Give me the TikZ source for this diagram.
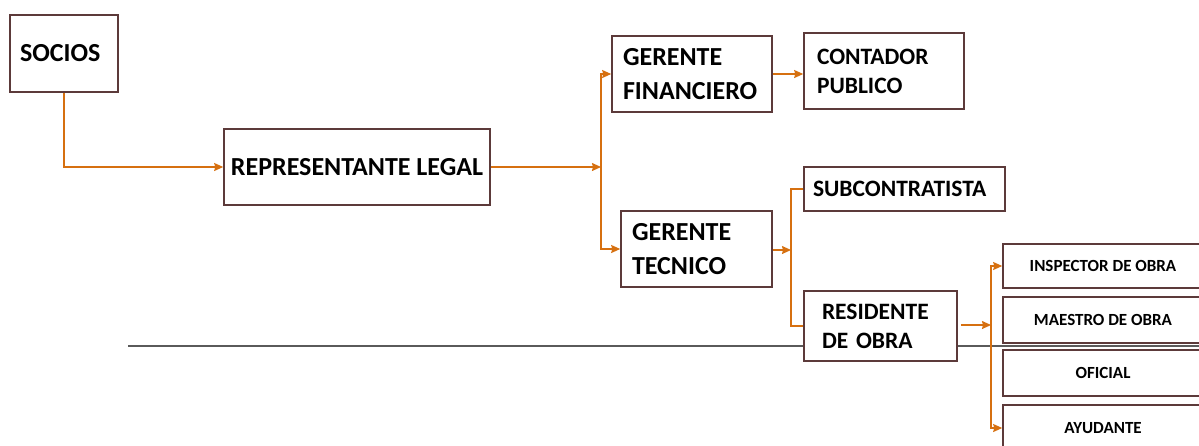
\documentclass[tikz,border=0pt]{standalone}
\usepackage{fontspec}
\usetikzlibrary{arrows.meta}
\setmainfont{Carlito}
\definecolor{boxline}{RGB}{92,58,58}
\definecolor{arrowor}{RGB}{214,112,16}
\definecolor{ruleg}{RGB}{90,90,90}
\begin{document}
\begin{tikzpicture}[x=1pt,y=-1pt,
    cargo/.style={draw=boxline, line width=1.6pt, fill=white, rectangle, inner sep=0pt,
                  font=\fontsize{26}{34}\selectfont\bfseries},
    cargol/.style={cargo, align=left},
    peon/.style={cargo, align=center, font=\fontsize{17}{20}\selectfont\bfseries},
    link/.style={draw=arrowor, line width=1.4pt, -{Stealth[length=9pt,width=8pt,inset=1pt]}},
    wire/.style={draw=arrowor, line width=1.4pt}]
    \useasboundingbox (0,0) rectangle (1199,445);
    \clip (0,0) rectangle (1199,445);

    % linea gris de fondo
    \coordinate (rule0) at (128,346);
    \coordinate (rule1) at (1199,346);
    \draw [ruleg, line width=1.2pt] (rule0)--(rule1);

    % cargos
    \node [cargol, minimum width=108, minimum height=77, text width=88] (socios) at (64,53.5) {SOCIOS};
    \node [cargo, minimum width=266, minimum height=76, align=center] (replegal) at (357,167) {REPRESENTANTE LEGAL};
    \node [cargol, minimum width=160, minimum height=76, text width=138] (gfin) at (692,74) {GERENTE\\FINANCIERO};
    \node [cargol, minimum width=160, minimum height=76, text width=134, font=\fontsize{23.5}{29}\selectfont\bfseries] (contador) at (884,71) {CONTADOR\\PUBLICO};
    \node [cargol, minimum width=151, minimum height=76, text width=129] (gtec) at (696.5,249) {GERENTE\\TECNICO};
    \node [cargol, minimum width=201, minimum height=44, text width=183, font=\fontsize{23.5}{28}\selectfont\bfseries] (subcon) at (904.5,189) {SUBCONTRATISTA};
    \node [cargol, minimum width=153, minimum height=70, text width=117, font=\fontsize{23.5}{29}\selectfont\bfseries] (resid) at (880.5,326) {RESIDENTE\\DE OBRA};
    \node [peon, minimum width=200, minimum height=44] (inspec) at (1103,266) {INSPECTOR DE OBRA};
    \node [peon, minimum width=200, minimum height=46] (maestro) at (1103,320) {MAESTRO DE OBRA};
    \node [peon, minimum width=200, minimum height=46] (oficial) at (1103,373) {OFICIAL};
    \node [peon, minimum width=200, minimum height=46] (ayud) at (1103,428) {AYUDANTE};

    % uniones
    \coordinate (jger) at (601,167);
    \coordinate (jtec) at (791,250);
    \coordinate (jres) at (991,325);

    \draw [link] (socios.south)|-(replegal.west);
    \draw [link] (replegal.east)--(jger);
    \draw [link] (jger)|-(gfin.west);
    \draw [link] (jger)|-(gtec.west);
    \draw [link] (gfin.east)--(gfin.east-|contador.west);
    \draw [link] (gtec.east|-jtec)--(jtec);
    \draw [wire] (jtec)|-(subcon.west);
    \draw [wire] (jtec)|-(resid.west);
    \draw [link] ([xshift=3pt]resid.east|-jres)--(jres);
    \draw [link] (jres)|-(inspec.west);
    \draw [link] (jres)|-(ayud.west);
\end{tikzpicture}
\end{document}
